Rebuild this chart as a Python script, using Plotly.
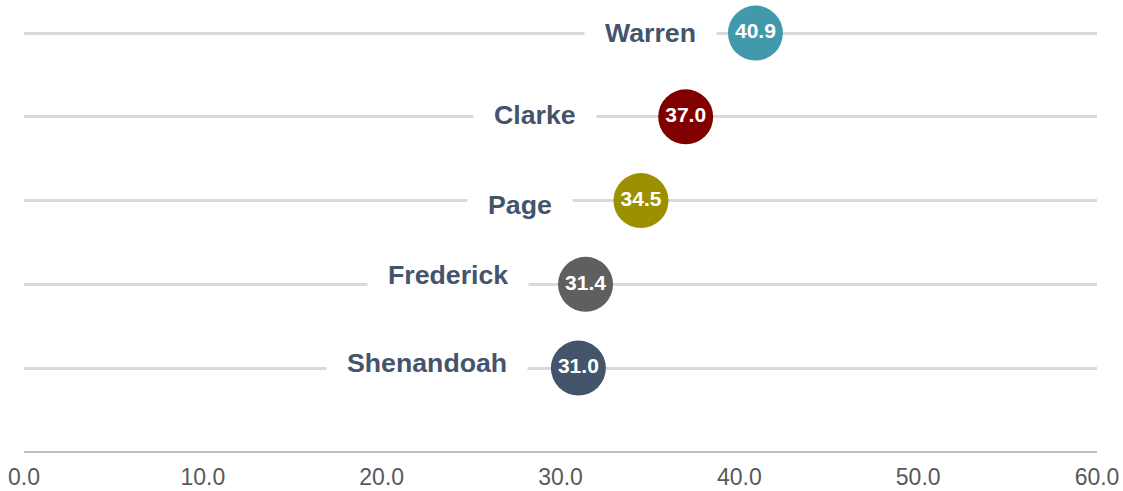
import plotly.graph_objects as go

counties = ["Shenandoah", "Frederick", "Page", "Clarke", "Warren"]
values = [31.0, 31.4, 34.5, 37.0, 40.9]
colors = ["#44546A", "#5F5F5F", "#9C8F00", "#800000", "#4299AC"]
tick_vals = [0, 10, 20, 30, 40, 50, 60]
tick_text = ["0.0", "10.0", "20.0", "30.0", "40.0", "50.0", "60.0"]

# label placement (pixels, relative to marker centre) - layout only
label_xshift = [-50, -57, -68, -89, -38]
label_yshift = [5, 9, -4, 2, 0]

ypos = list(range(len(counties)))

fig = go.Figure()
fig.add_trace(go.Scatter(
    x=values, y=ypos, mode="markers+text",
    marker=dict(size=55, color=colors, line=dict(width=0)),
    text=[f"{v:.1f}" for v in values],
    textposition="middle center",
    textfont=dict(family="Liberation Sans, Arial", size=21, color="white", weight="bold"),
    hoverinfo="skip", showlegend=False, cliponaxis=False,
))

for i, (c, v) in enumerate(zip(counties, values)):
    fig.add_annotation(
        x=v, y=ypos[i], xref="x", yref="y", text=c, showarrow=False,
        xanchor="right", yanchor="middle",
        xshift=label_xshift[i], yshift=label_yshift[i],
        bgcolor="white", borderpad=20,
        font=dict(family="Liberation Sans, Arial", size=26.7, color="#44546A", weight="bold"),
    )

fig.update_layout(
    width=1123, height=491,
    margin=dict(l=24, r=26, t=8, b=40, autoexpand=False),
    plot_bgcolor="white", paper_bgcolor="white",
    xaxis=dict(range=[0, 60], tickvals=tick_vals, ticktext=tick_text,
               showgrid=False, zeroline=False, showline=True, automargin=False,
               linecolor="#BFBFBF", linewidth=2, ticks="", ticklen=0,
               ticklabelstandoff=4,
               tickfont=dict(family="Liberation Sans, Arial", size=23, color="#595959")),
    yaxis=dict(range=[-0.99, 4.3], tickvals=ypos, showticklabels=False, automargin=False,
               showgrid=True, gridcolor="#D9D9D9", gridwidth=3,
               zeroline=False, showline=False),
)

fig.write_html("out.html", config={"displayModeBar": False},
               post_script="document.body.style.margin='0';")
